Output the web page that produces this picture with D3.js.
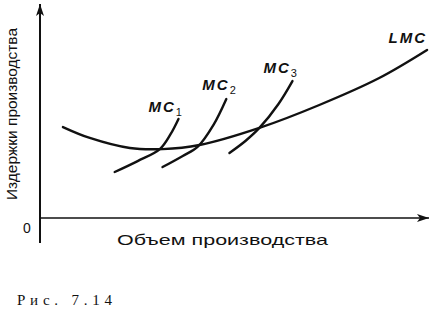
<!DOCTYPE html>
<html>
<head>
<meta charset="utf-8">
<script src="https://cdn.jsdelivr.net/npm/d3@7"></script>
<style>
  body { margin: 0; background: #fff; }
  text { font-family: Arial, "Liberation Sans", sans-serif; fill: #111; }
  text.caption { font-family: "Liberation Serif", "DejaVu Serif", serif; }
</style>
</head>
<body>
<div id="chart"></div>
<script>
// кривая долгосрочных предельных издержек (x - объем, y - издержки)
const lmcX = [5.9, 12.8, 23.1, 31.5, 41.0, 56.4, 71.8, 87.2, 99.5];
const lmcY = [42.5, 37.4, 32.7, 32.2, 34.1, 42.1, 52.8, 65.4, 78.5];

// краткосрочные предельные издержки
const mc1X = [19.2, 25.1, 30.8, 33.6, 35.6];
const mc1Y = [21.5, 26.6, 32.2, 39.3, 46.3];
const mc2X = [31.5, 36.7, 40.5, 44.6, 47.9];
const mc2Y = [23.8, 29.0, 33.2, 43.5, 55.6];
const mc3X = [48.7, 52.8, 56.4, 61.3, 64.9];
const mc3Y = [30.4, 36.0, 42.1, 53.3, 64.0];

const curveNames = ["MC", "MC", "MC", "LMC"];
const curveSubs = ["1", "2", "3", ""];
const xTitle = "Объем производства";
const yTitle = "Издержки производства";
const caption = "Рис. 7.14";

const width = 438, height = 312;

const svg = d3.select("#chart").append("svg")
    .attr("width", width)
    .attr("height", height);

//шкалы
const x = d3.scaleLinear().domain([0, 100]).range([40, 429]);
const y = d3.scaleLinear().domain([0, 100]).range([218, 4]);

// стрелки
svg.append("defs").append("marker")
    .attr("id", "arrow")
    .attr("viewBox", "0 0 12 8")
    .attr("refX", 12).attr("refY", 4)
    .attr("markerWidth", 12).attr("markerHeight", 8)
    .attr("markerUnits", "userSpaceOnUse")
    .attr("orient", "auto")
    .append("path")
    .attr("d", "M0,0 L12,4 L0,8 L3,4 Z")
    .attr("fill", "#111");

// оси
svg.append("line")
    .attr("x1", x(0)).attr("x2", x(0))
    .attr("y1", y(-11.7)).attr("y2", y(100))
    .attr("stroke", "#111").attr("stroke-width", 2)
    .attr("marker-end", "url(#arrow)");

svg.append("line")
    .attr("x1", x(0)).attr("x2", x(100))
    .attr("y1", y(0)).attr("y2", y(0))
    .attr("stroke", "#111").attr("stroke-width", 1.4)
    .attr("marker-end", "url(#arrow)");

svg.append("text")
    .attr("x", x(0) - 13).attr("y", y(0) + 15)
    .attr("text-anchor", "middle")
    .attr("font-size", 14)
    .text("0");

svg.append("text")
    .attr("x", 117).attr("y", 245)
    .attr("font-size", 14.5)
    .attr("textLength", 211)
    .attr("lengthAdjust", "spacingAndGlyphs")
    .text(xTitle);

svg.append("text")
    .attr("transform", "translate(17,200) rotate(-90)")
    .attr("font-size", 14)
    .attr("textLength", 172)
    .attr("lengthAdjust", "spacingAndGlyphs")
    .text(yTitle);

// кривые
const line = d3.line()
    .x(d => x(d[0]))
    .y(d => y(d[1]))
    .curve(d3.curveCatmullRom.alpha(0.5));

const series = [
    d3.zip(mc1X, mc1Y),
    d3.zip(mc2X, mc2Y),
    d3.zip(mc3X, mc3Y),
    d3.zip(lmcX, lmcY)
];

svg.append("g").selectAll("path")
    .data(series)
    .enter()
    .append("path")
    .attr("d", line)
    .attr("fill", "none")
    .attr("stroke", "#111")
    .attr("stroke-width", 2.4)
    .attr("stroke-linecap", "round");

// подписи кривых
const labelDx = [-30, -24, -29, 0];
const labelDy = [-7, -9, -8, -7];

series.forEach((s, i) => {
    const top = s[s.length - 1];
    const t = svg.append("text")
        .attr("x", x(top[0]) + labelDx[i])
        .attr("y", y(top[1]) + labelDy[i])
        .attr("font-size", 15)
        .attr("font-weight", "bold")
        .attr("font-style", "italic")
        .attr("letter-spacing", 2)
        .attr("text-anchor", i === 3 ? "end" : "start");
    t.append("tspan").text(curveNames[i]);
    if (curveSubs[i]) {
        t.append("tspan")
            .attr("dy", 4)
            .attr("font-size", 11)
            .attr("font-weight", "normal")
            .attr("font-style", "normal")
            .text(curveSubs[i]);
    }
});

svg.append("text")
    .attr("class", "caption")
    .attr("x", 17).attr("y", 305)
    .attr("font-size", 15)
    .attr("textLength", 95)
    .attr("lengthAdjust", "spacing")
    .text(caption);
</script>
</body>
</html>
